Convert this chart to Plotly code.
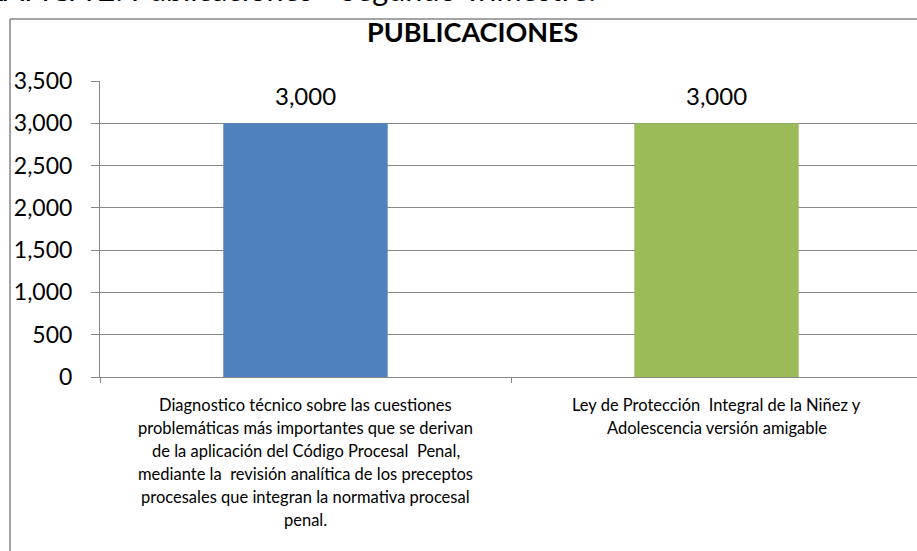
import plotly.graph_objects as go

categories = ["cat1", "cat2"]
values = [3000, 3000]
colors = ["#4F81BD", "#9BBB59"]
cat_label_lines = [
    ["Diagnostico técnico sobre las cuestiones",
     "problemáticas más importantes que se derivan",
     "de la aplicación del Código Procesal  Penal,",
     "mediante la  revisión analítica de los preceptos",
     "procesales que integran la normativa procesal",
     "penal."],
    ["Ley de Protección  Integral de la Niñez y",
     "Adolescencia versión amigable"],
]
y_tickvals = [0, 500, 1000, 1500, 2000, 2500, 3000, 3500]
title_text = "PUBLICACIONES"
caption_text = "GRÁFICA 2: Publicaciones - Segundo Trimestre."

FONT = "Lato"
GRID = "#868686"

W, H = 917, 551
L, R, T, B = 100, 0, 81, 174
pw, ph = W - L - R, H - T - B

def px_x(p):
    return (p - L) / pw

def px_y(p):
    return (H - B - p) / ph

fig = go.Figure(go.Bar(
    x=categories, y=values, marker_color=colors, width=0.40,
    marker_line_width=0, hoverinfo="skip",
))

annotations = []
for c, v in zip(categories, values):
    annotations.append(dict(x=c, y=v, xref="x", yref="y", text=f"{v:,}",
                            showarrow=False, yshift=28,
                            font=dict(family=FONT, size=24, color="black")))
for c, lines in zip(categories, cat_label_lines):
    for i, line in enumerate(lines):
        annotations.append(dict(x=c, y=0, xref="x", yref="paper", text=line,
                                showarrow=False, yanchor="middle",
                                yshift=-(28 + 23 * i),
                                font=dict(family=FONT, size=16.5, color="black")))
annotations.append(dict(x=px_x(472), y=px_y(32), xref="paper", yref="paper",
                        text=f"<b>{title_text}</b>", showarrow=False,
                        xanchor="center", yanchor="middle",
                        font=dict(family=FONT, size=27, color="black")))
annotations.append(dict(x=px_x(-40), y=px_y(-11), xref="paper", yref="paper",
                        text=caption_text, showarrow=False,
                        xanchor="left", yanchor="middle",
                        font=dict(family=FONT, size=30.5, color="black")))

shapes = [
    dict(type="line", xref="paper", yref="paper", x0=px_x(10), x1=px_x(W + 20),
         y0=px_y(19), y1=px_y(19), line=dict(color=GRID, width=1.5)),
    dict(type="line", xref="paper", yref="paper", x0=px_x(10), x1=px_x(10),
         y0=px_y(19), y1=px_y(H + 20), line=dict(color=GRID, width=1.5)),
]

fig.update_layout(
    width=W, height=H,
    margin=dict(l=L, r=R, t=T, b=B, pad=0),
    paper_bgcolor="white", plot_bgcolor="white",
    showlegend=False,
    annotations=annotations, shapes=shapes,
    font=dict(family=FONT, color="black"),
)
fig.update_xaxes(
    type="category", range=[-0.5, -0.5 + pw / 411.0],
    showline=True, linecolor=GRID, linewidth=1,
    ticks="outside", tickson="boundaries", ticklen=5, tickcolor=GRID,
    showticklabels=False, showgrid=False, zeroline=False, fixedrange=True,
)
fig.update_yaxes(
    range=[0, 3500], tickvals=y_tickvals, tickformat=",",
    showline=True, linecolor=GRID, linewidth=1,
    ticks="outside", ticklen=8, tickcolor=GRID,
    showgrid=True, gridcolor=GRID, gridwidth=1, zeroline=False,
    tickfont=dict(family=FONT, size=23, color="black"),
    ticklabelstandoff=14, fixedrange=True,
)

fig.write_html("out.html", config={"displayModeBar": False},
               post_script="document.body.style.margin='0';")
